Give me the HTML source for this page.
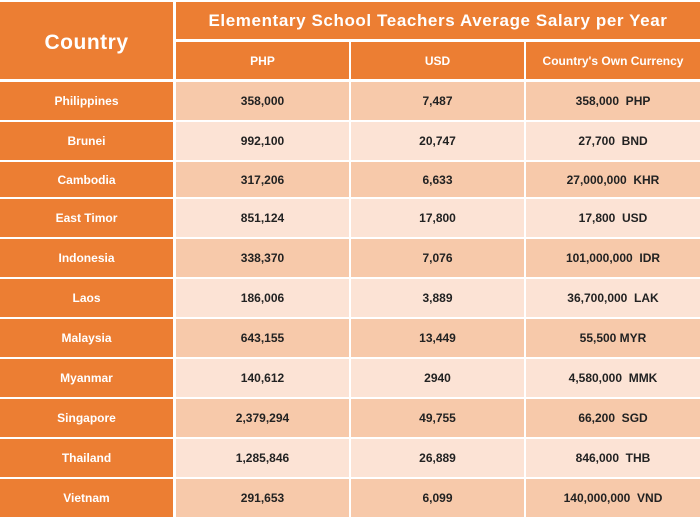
<!DOCTYPE html>
<html><head><style>
body{margin:0;background:#fff;width:700px;height:520px;position:relative;overflow:hidden;font-family:"Liberation Sans",sans-serif;font-weight:bold}
.c{position:absolute;display:flex;align-items:center;justify-content:center;box-sizing:border-box;}
.o{background:#EC7E33;color:#fff}
.a{background:#F7C9AA;color:#222}
.b{background:#FCE3D5;color:#222}
</style></head><body>
<div id="t"></div>
<script>
var H='';
function cell(x,y,w,h,cls,txt,fs,ex){H+='<div class="c '+cls+'" style="left:'+x+'px;top:'+y+'px;width:'+w+'px;height:'+h+'px;font-size:'+fs+'px;'+(ex||'')+'">'+txt+'</div>';}
cell(0,2,173,77,'o','Country',21,'padding-top:4px;letter-spacing:0.5px');
cell(176,2,524,37,'o','Elementary School Teachers Average Salary per Year',17,'letter-spacing:0.6px');
cell(176,42,173,37,'o','PHP',12);
cell(351,42,173,37,'o','USD',12);
cell(526,42,174,37,'o',"Country's Own Currency",12);
var ys=[81,121,161,198,238,278,318,358,398,438,478,518];
var d=[["Philippines","358,000","7,487","358,000&nbsp; PHP"],["Brunei","992,100","20,747","27,700&nbsp; BND"],["Cambodia","317,206","6,633","27,000,000&nbsp; KHR"],["East Timor","851,124","17,800","17,800&nbsp; USD"],["Indonesia","338,370","7,076","101,000,000&nbsp; IDR"],["Laos","186,006","3,889","36,700,000&nbsp; LAK"],["Malaysia","643,155","13,449","55,500 MYR"],["Myanmar","140,612","2940","4,580,000&nbsp; MMK"],["Singapore","2,379,294","49,755","66,200&nbsp; SGD"],["Thailand","1,285,846","26,889","846,000&nbsp; THB"],["Vietnam","291,653","6,099","140,000,000&nbsp; VND"]];
for(var i=0;i<d.length;i++){var y=ys[i]+1,h=ys[i+1]-ys[i]-2;var k=i%2?'b':'a';
cell(0,y,173,h,'o',d[i][0],12);cell(176,y,173,h,k,d[i][1],12);cell(351,y,173,h,k,d[i][2],12);cell(526,y,174,h,k,d[i][3],12);}
document.getElementById('t').innerHTML=H;
</script>
</body></html>
